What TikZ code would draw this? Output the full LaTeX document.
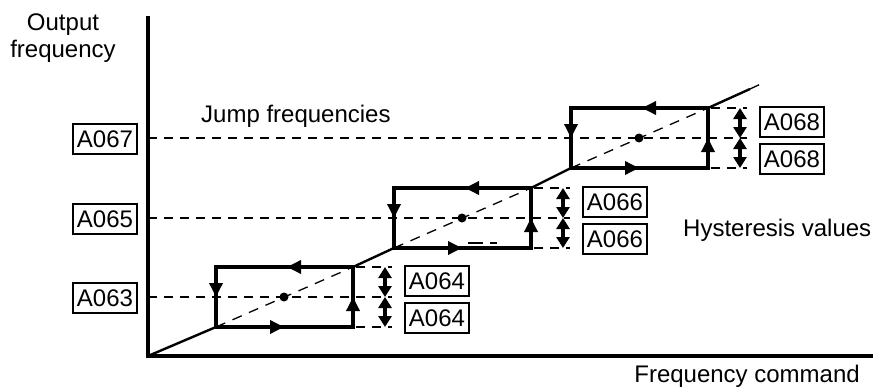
\documentclass[tikz,border=0pt]{standalone}
\usepackage{fontspec}
\setmainfont{Liberation Sans}
\usetikzlibrary{arrows.meta,positioning,calc}
\tikzset{
  axis/.style={line width=3.6pt},
  rise/.style={line width=2.4pt},
  loopline/.style={line width=3.4pt},
  looptip/.style={line width=3.4pt, -{Triangle[length=14pt,width=13pt]}},
  jumpline/.style={line width=2pt, dash pattern=on 9pt off 7pt},
  guide/.style={line width=1.3pt, dash pattern=on 10pt off 8pt},
  hyst/.style={line width=3.4pt, {Triangle[length=11pt,width=13pt]}-{Triangle[length=11pt,width=13pt]}},
  param/.style={draw, line width=1.8pt, minimum width=64pt, minimum height=30pt,
                inner sep=0pt, font=\fontsize{24}{27}\selectfont},
  caption/.style={font=\fontsize{24}{27}\selectfont, align=center, inner sep=0pt}
}

\begin{document}
\begin{tikzpicture}[x=1pt,y=-1pt]
  \useasboundingbox (0,0) rectangle (873,388);

  % axes
  \coordinate (origin) at (148,356);
  \coordinate (ytop) at (148,16);
  \coordinate (xend) at (873,356);
  \draw[axis] (ytop) -- (origin) -- (xend);

  \node[caption, anchor=north] (yname) at (63,14) {Output\\frequency};
  \node[caption, anchor=base east] (xname) at (860,382) {Frequency command};
  \node[caption, anchor=base west] (jumpname) at (201,122) {Jump frequencies};
  \node[caption, anchor=base west] (hystname) at (683,236) {Hysteresis values};

  % one hysteresis loop per jump frequency
  \foreach \l/\m/\jump/\hys [count=\i] in {216/297/A063/A064, 394/218/A065/A066, 571/138/A067/A068} {
    \coordinate (bl\i) at (\l,\m+30);
    \coordinate (tr\i) at (\l+137,\m-30);
    \draw[guide] (bl\i) -- (tr\i);
    \draw[jumpline] (148,\m) -- (\l+176,\m);
    \draw[jumpline] (\l+140,\m-30) -- (\l+176,\m-30);
    \draw[jumpline] (\l+140,\m+30) -- (\l+176,\m+30);
    \draw[loopline] (bl\i) rectangle (tr\i);
    \draw[looptip] (\l+137,\m+20) -- (\l+137,\m);
    \draw[looptip] (\l+90,\m-30) -- (\l+71,\m-30);
    \draw[looptip] (\l,\m-20) -- (\l,\m);
    \draw[looptip] (\l+50,\m+30) -- (\l+68,\m+30);
    \fill (\l+68,\m) circle (4.5pt);
    \draw[hyst] (\l+169,\m-30) -- (\l+169,\m);
    \draw[hyst] (\l+169,\m) -- (\l+169,\m+30);
    \node[param] (jump\i) at (105,\m+1) {\jump};
    \node[param] (up\i) at (\l+221,\m-16) {\hys};
    \node[param] (down\i) at (\l+221,\m+21) {\hys};
  }

  % output follows command between the loops
  \coordinate (lineend) at (750,89);
  \coordinate (lineout) at (765,82);
  \draw[rise] (origin) -- (bl1);
  \draw[rise] (tr1) -- (bl2);
  \draw[rise] (tr2) -- (bl3);
  \draw[rise] (tr3) -- (lineend);
  \draw[guide] (lineend) -- (lineout);
  \draw[line width=2pt, dash pattern=on 15pt off 7pt] (468,243) -- (497,243);
\end{tikzpicture}
\end{document}
